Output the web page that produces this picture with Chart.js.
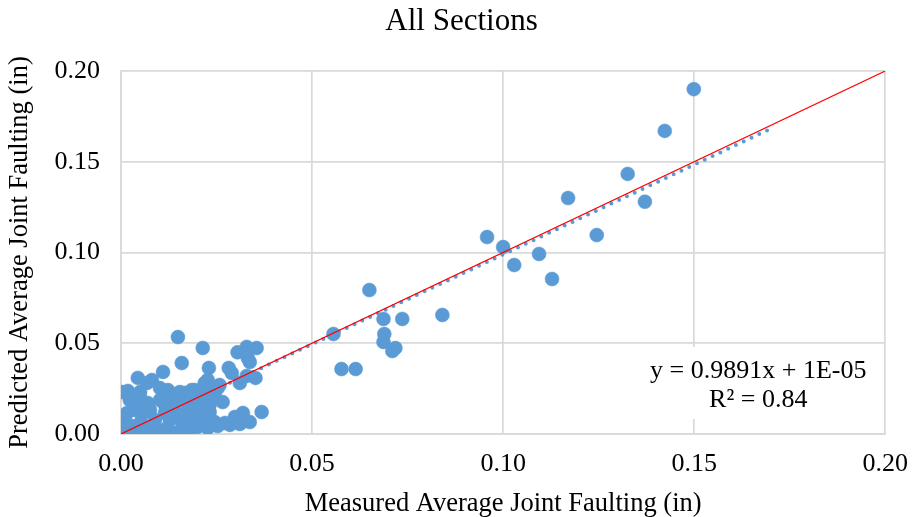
<!DOCTYPE html>
<html>
<head>
<meta charset="utf-8">
<script src="https://cdn.jsdelivr.net/npm/chart.js@4.4.0/dist/chart.umd.min.js"></script>
<style>
  html, body { margin: 0; padding: 0; background: #fff; }
  #wrap { width: 923px; height: 517px; }
</style>
</head>
<body>
<div id="wrap"><canvas id="scatter_chart" width="923" height="517"></canvas></div>
<script>
// measured vs predicted faulting (in)
var measured = [
  0.1499, 0.1423, 0.1326, 0.1371, 0.1170, 0.1245, 0.0958, 0.1000, 0.1029, 0.1094, 0.1128,
  0.0650, 0.0841, 0.0736, 0.0687, 0.0689, 0.0556, 0.0687, 0.0718, 0.0710, 0.0577, 0.0614,
  0.0149, 0.0214, 0.0305, 0.0329, 0.0355, 0.0332, 0.0159, 0.0230, 0.0282, 0.0110, 0.0352,
  0.0329, 0.0290, 0.0044, 0.0081, 0.0003, 0.0018, 0.0311, 0.0219, 0.0258, 0.0238, 0.0185,
  0.0167, 0.0141, 0.0123, 0.0068, 0.0102, 0.0050, 0.0037, 0.0070, 0.0102, 0.0128, 0.0154,
  0.0180, 0.0206, 0.0201, 0.0232, 0.0266, 0.0175, 0.0368, 0.0016, 0.0050, 0.0076, 0.0115,
  0.0141, 0.0319, 0.0298, 0.0272, 0.0245, 0.0219, 0.0193, 0.0162, 0.0128, 0.0089, 0.0052,
  0.0010, 0.0000, 0.0018, 0.0037, 0.0057, 0.0076, 0.0097, 0.0117, 0.0138, 0.0159, 0.0180,
  0.0201, 0.0227, 0.0253, 0.0285, 0.0311, 0.0337, 0.0005, 0.0029,
  0.0128, 0.0154, 0.0193, 0.0219, 0.0245, 0.0115, 0.0141, 0.0180, 0.0206, 0.0232, 0.0023,
  0.0050, 0.0037, 0.0063, 0.0253, 0.0227, 0.0337
];
var predicted = [
  0.1900, 0.1670, 0.1433, 0.1280, 0.1300, 0.1096, 0.1085, 0.1030, 0.0931, 0.0992, 0.0854,
  0.0793, 0.0656, 0.0634, 0.0634, 0.0551, 0.0551, 0.0507, 0.0474, 0.0457, 0.0358, 0.0358,
  0.0534, 0.0474, 0.0450, 0.0480, 0.0474, 0.0419, 0.0391, 0.0364, 0.0364, 0.0342, 0.0309,
  0.0320, 0.0336, 0.0309, 0.0298, 0.0231, 0.0237, 0.0281, 0.0281, 0.0270, 0.0242, 0.0242,
  0.0226, 0.0215, 0.0242, 0.0281, 0.0253, 0.0231, 0.0176, 0.0171, 0.0187, 0.0160, 0.0187,
  0.0171, 0.0204, 0.0160, 0.0160, 0.0176, 0.0132, 0.0121, 0.0116, 0.0121, 0.0132, 0.0116,
  0.0105, 0.0116, 0.0094, 0.0061, 0.0066, 0.0077, 0.0077, 0.0072, 0.0077, 0.0077, 0.0066,
  0.0077, 0.0017, 0.0006, 0.0022, 0.0006, 0.0033, 0.0011, 0.0028, 0.0006, 0.0033, 0.0017,
  0.0039, 0.0033, 0.0044, 0.0050, 0.0055, 0.0066, 0.0050, 0.0044,
  0.0215, 0.0231, 0.0242, 0.0215, 0.0215, 0.0160, 0.0132, 0.0143, 0.0132, 0.0121, 0.0187,
  0.0198, 0.0132, 0.0121, 0.0253, 0.0298, 0.0397
];

// linear trend (y = 0.9891x + 1E-05) and line of equality
var trendX = [0, 0.171];
var trendY = [0.00001, 0.16915];
var equalX = [0, 0.2];
var equalY = [0, 0.2];

var axisTicks = [0, 0.05, 0.10, 0.15, 0.20];
var chartTitle = 'All Sections';
var eqLines = ['y = 0.9891x + 1E-05', 'R\u00B2 = 0.84'];

function zip(xs, ys) {
  return xs.map(function (x, i) { return { x: x, y: ys[i] }; });
}

var serif = "'Liberation Serif', 'Times New Roman', serif";

// title centred on the whole canvas, plus the white equation box like the Excel label
var textBits = {
  id: 'textBits',
  afterDraw: function (chart) {
    var c = chart.ctx;
    c.save();
    c.fillStyle = '#000000';
    c.textAlign = 'center';
    c.textBaseline = 'middle';
    c.font = '31px ' + serif;
    c.fillText(chartTitle, chart.width / 2, 22);
    c.restore();
  },
  afterDatasetsDraw: function (chart) {
    var c = chart.ctx, a = chart.chartArea;
    c.save();
    c.fillStyle = '#ffffff';
    c.fillRect(a.right - 242, a.bottom - 87, 230, 72);
    c.fillStyle = '#000000';
    c.font = '26px ' + serif;
    c.textAlign = 'center';
    c.textBaseline = 'middle';
    c.fillText(eqLines[0], a.right - 127, a.bottom - 63);
    c.fillText(eqLines[1], a.right - 127, a.bottom - 34);
    c.restore();
  }
};

var ctx = document.getElementById('scatter_chart').getContext('2d');

new Chart(ctx, {
  type: 'scatter',
  data: {
    datasets: [
      {
        type: 'line',
        data: zip(equalX, equalY),
        borderColor: '#ff0000',
        borderWidth: 1.2,
        pointRadius: 0,
        fill: false
      },
      {
        type: 'line',
        data: zip(trendX, trendY),
        borderColor: '#5b9bd5',
        borderWidth: 4,
        borderDash: [0, 8.6],
        borderCapStyle: 'round',
        pointRadius: 0,
        fill: false
      },
      {
        data: zip(measured, predicted),
        backgroundColor: '#5b9bd5',
        borderColor: '#5b9bd5',
        borderWidth: 0.5,
        pointRadius: 7,
        pointHoverRadius: 7
      }
    ]
  },
  options: {
    responsive: false,
    animation: false,
    layout: { padding: { left: 0, right: 36, top: 71, bottom: 0 } },
    plugins: {
      legend: { display: false },
      tooltip: { enabled: false },
      title: { display: false }
    },
    scales: {
      x: {
        type: 'linear',
        min: 0,
        max: 0.2,
        afterBuildTicks: function (s) { s.ticks = axisTicks.map(function (v) { return { value: v }; }); },
        afterFit: function (s) { s.height = 83; },
        ticks: {
          color: '#000',
          padding: 15,
          font: { family: serif, size: 26 },
          callback: function (v) { return v.toFixed(2); }
        },
        grid: { color: '#d9d9d9', lineWidth: 1.7, drawTicks: false },
        border: { color: '#d9d9d9', width: 1.7 },
        title: {
          display: true,
          text: 'Measured Average Joint Faulting (in)',
          color: '#000',
          font: { family: serif, size: 26.5, lineHeight: 1 },
          padding: 0
        }
      },
      y: {
        type: 'linear',
        min: 0,
        max: 0.2,
        afterBuildTicks: function (s) { s.ticks = axisTicks.map(function (v) { return { value: v }; }); },
        afterFit: function (s) { s.width = 121; },
        ticks: {
          color: '#000',
          padding: 21,
          font: { family: serif, size: 26 },
          callback: function (v) { return v.toFixed(2); }
        },
        grid: { color: '#d9d9d9', lineWidth: 1.7, drawTicks: false },
        border: { color: '#d9d9d9', width: 1.7 },
        title: {
          display: true,
          text: 'Predicted Average Joint Faulting (in)',
          color: '#000',
          font: { family: serif, size: 26.5, lineHeight: 1 },
          padding: { top: 7, bottom: 0 }
        }
      }
    }
  },
  plugins: [textBits]
});
</script>
</body>
</html>
